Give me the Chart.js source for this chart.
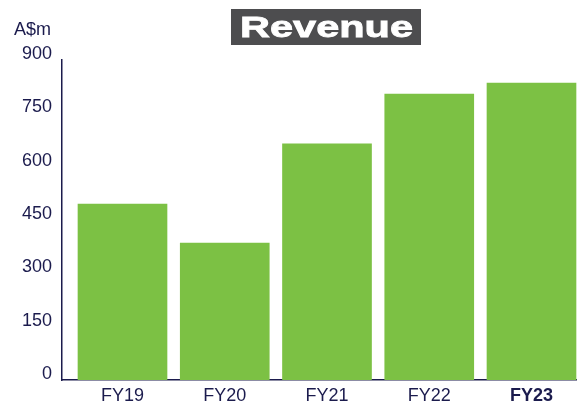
<!DOCTYPE html>
<html>
<head>
<meta charset="utf-8">
<script src="https://cdn.jsdelivr.net/npm/chart.js@4/dist/chart.umd.min.js"></script>
<style>
  html, body { margin: 0; padding: 0; background: #ffffff; overflow: hidden; }
  #wrap { position: relative; width: 577px; height: 409px; }
</style>
</head>
<body>
<div id="wrap"><canvas id="c" width="577" height="409"></canvas></div>
<script>
// ---- data ----
const categories = ["FY19", "FY20", "FY21", "FY22", "FY23"];
const revenue = [495, 385, 664, 804, 835];
const yTicks = [0, 150, 300, 450, 600, 750, 900];
const chartTitle = "Revenue";
const unitLabel = "A$m";

const NAVY = "#1b1b4d";
const GREEN = "#7cc144";
const FONT = "'Liberation Sans', Arial, Helvetica, sans-serif";

const overlay = {
  id: "overlay",
  afterDraw(chart) {
    const ctx = chart.ctx;
    ctx.save();
    // title box
    ctx.fillStyle = "#4d4d4f";
    ctx.fillRect(231, 9, 190, 36);
    ctx.font = "bold 29px " + FONT;
    const w = ctx.measureText(chartTitle).width;
    ctx.translate(240, 37);
    ctx.scale(173 / w, 1);
    ctx.fillStyle = "#ffffff";
    ctx.strokeStyle = "#ffffff";
    ctx.lineWidth = 0.8;
    ctx.textBaseline = "alphabetic";
    ctx.textAlign = "left";
    ctx.fillText(chartTitle, 0, 0);
    ctx.strokeText(chartTitle, 0, 0);
    ctx.restore();
    // unit label
    ctx.save();
    ctx.font = "18px " + FONT;
    ctx.fillStyle = NAVY;
    ctx.textBaseline = "alphabetic";
    ctx.textAlign = "left";
    ctx.fillText(unitLabel, 14, 35);
    ctx.restore();
  }
};

Chart.defaults.font.family = FONT;

new Chart(document.getElementById("c"), {
  type: "bar",
  data: {
    datasets: [{
      data: categories.map((c, i) => ({ x: i, y: revenue[i] })),
      backgroundColor: GREEN,
      borderWidth: 0,
      barThickness: 89
    }]
  },
  options: {
    responsive: false,
    animation: false,
    devicePixelRatio: 1,
    layout: { padding: { top: 60, left: 0, right: 0, bottom: 0 } },
    plugins: { legend: { display: false }, tooltip: { enabled: false }, title: { display: false } },
    scales: {
      x: {
        type: "linear",
        offset: false,
        bounds: "ticks",
        min: -0.5917,
        max: 4.445,
        afterBuildTicks(scale) { scale.ticks = categories.map((c, i) => ({ value: i })); },
        afterFit(scale) { scale.height = 29; },
        grid: { display: false, drawTicks: false, offset: false },
        border: { display: true, color: NAVY, width: 1.5 },
        ticks: {
          padding: 5,
          color: NAVY,
          autoSkip: false,
          maxRotation: 0,
          callback: (v) => categories[Math.round(v)],
          font: (ctx) => ({ size: 18, family: FONT, weight: (ctx.index === categories.length - 1) ? "bold" : "normal" })
        }
      },
      y: {
        min: 0,
        max: 900,
        afterBuildTicks(scale) { scale.ticks = yTicks.map(v => ({ value: v })); },
        afterFit(scale) { scale.width = 62; },
        grid: { display: false, drawTicks: false },
        border: { display: true, color: NAVY, width: 1.5 },
        ticks: {
          padding: 10,
          color: NAVY,
          labelOffset: -6,
          font: { size: 18, family: FONT }
        }
      }
    }
  },
  plugins: [overlay]
});
</script>
</body>
</html>
